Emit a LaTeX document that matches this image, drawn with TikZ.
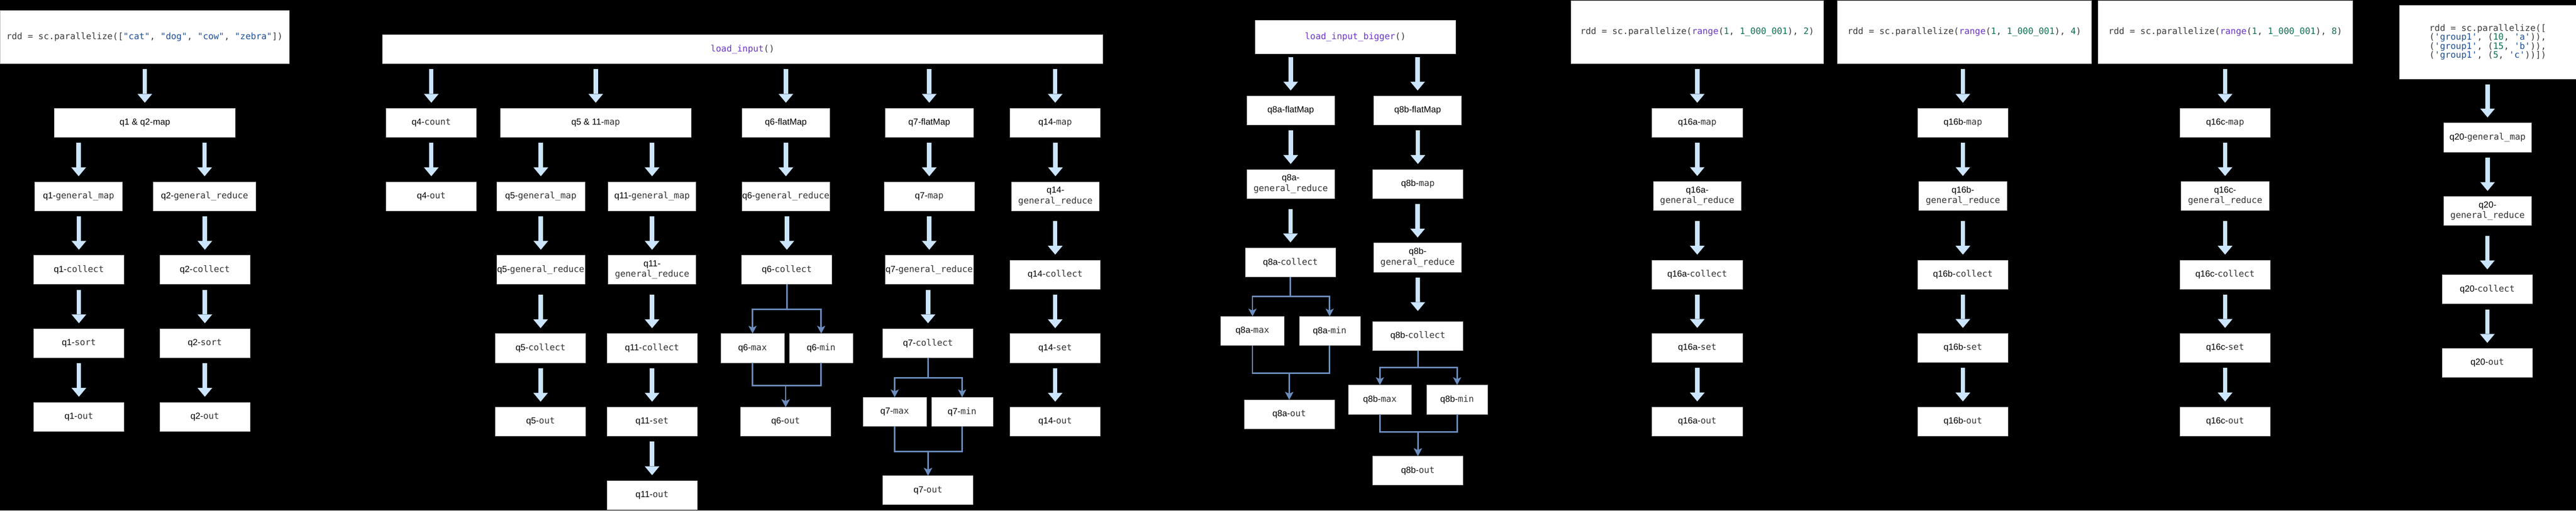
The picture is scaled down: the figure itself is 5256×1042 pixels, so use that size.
\documentclass[tikz,border=0pt]{standalone}
\usepackage{fontspec}
\setmainfont{Liberation Sans}
\setsansfont{Liberation Sans}
\setmonofont{DejaVu Sans Mono}
\usetikzlibrary{arrows.meta}

\definecolor{arrowfill}{HTML}{CCE5FF}
\definecolor{forkblue}{HTML}{6C8EBF}
\definecolor{monogray}{HTML}{333333}
\definecolor{codetxt}{HTML}{3B3B3B}
\definecolor{codestr}{HTML}{1F4F95}
\definecolor{codenum}{HTML}{0E7050}
\definecolor{codefun}{HTML}{6B36C8}

\newcommand{\qop}[2]{#1{\ttfamily\color{monogray}#2}}
\newcommand{\pstr}[1]{{\color{codestr}#1}}
\newcommand{\pnum}[1]{{\color{codenum}#1}}
\newcommand{\pfun}[1]{{\color{codefun}#1}}

\begin{document}
\begin{tikzpicture}[x=1pt, y=-1pt,
    op/.style={draw=gray!50, line width=0.75pt, fill=white, inner sep=0pt, align=center,
        minimum height=59pt, minimum width=184pt, font=\fontsize{18}{21.6}\selectfont},
    src/.style={op, text=codetxt, font=\ttfamily\fontsize{18}{21.6}\selectfont},
    bigarrow/.style={line width=9pt, draw=arrowfill, shorten <=11pt, shorten >=11pt,
        -{Triangle[length=18pt, width=30pt, line width=0pt]}},
    forkline/.style={draw=forkblue, line width=3pt,
        -{Stealth[length=16pt, width=17pt, inset=4pt, line width=0pt]}}]
    \fill [black] (0, 0) rectangle (5256, 1042);
    \useasboundingbox (0, 0) rectangle (5256, 1042);

    % q1 / q2
    \node [src, minimum width=590pt, minimum height=109pt] (in1) at (295, 75.5)
        {rdd = sc.parallelize([\pstr{"cat"}, \pstr{"dog"}, \pstr{"cow"}, \pstr{"zebra"}])};
    \node [op, minimum width=369pt] (q12map) at (295.5, 250.5) {q1 \& q2-map};
    \node [op, minimum width=179pt] (q1gm) at (160.5, 400.5) {\qop{q1-}{general\_map}};
    \node [op, minimum width=209pt] (q2gr) at (417.5, 400.5) {\qop{q2-}{general\_reduce}};
    \node [op] (q1col) at (161, 550.5) {\qop{q1-}{collect}};
    \node [op] (q2col) at (418, 550.5) {\qop{q2-}{collect}};
    \node [op] (q1sort) at (161, 700.5) {\qop{q1-}{sort}};
    \node [op] (q2sort) at (418, 700.5) {\qop{q2-}{sort}};
    \node [op] (q1out) at (161, 850.5) {\qop{q1-}{out}};
    \node [op] (q2out) at (418, 850.5) {\qop{q2-}{out}};

    % q4 .. q14
    \node [src, minimum width=1470pt] (load) at (1515, 100.5) {\pfun{load\_input}()};
    \node [op] (q4cnt) at (880, 250.5) {\qop{q4-}{count}};
    \node [op] (q4out) at (880, 400.5) {\qop{q4-}{out}};
    \node [op, minimum width=389pt] (q511map) at (1215.5, 250.5) {\qop{q5 \& 11-}{map}};
    \node [op, minimum width=179pt] (q5gm) at (1103.5, 400.5) {\qop{q5-}{general\_map}};
    \node [op, minimum width=179pt] (q11gm) at (1330.5, 400.5) {\qop{q11-}{general\_map}};
    \node [op, minimum width=179pt] (q5gr) at (1103.5, 550.5) {\qop{q5-}{general\_reduce}};
    \node [op, minimum width=179pt] (q11gr) at (1330.5, 550.5) {\qop{q11-\\}{general\_reduce}};
    \node [op] (q5col) at (1103, 710.5) {\qop{q5-}{collect}};
    \node [op] (q11col) at (1330.5, 710.5) {\qop{q11-}{collect}};
    \node [op] (q5out) at (1103, 860.5) {\qop{q5-}{out}};
    \node [op] (q11set) at (1330.5, 860.5) {\qop{q11-}{set}};
    \node [op] (q11out) at (1330.5, 1010.5) {\qop{q11-}{out}};

    \node [op, minimum width=179pt] (q6fm) at (1603.5, 250.5) {q6-flatMap};
    \node [op, minimum width=179pt] (q6gr) at (1603.5, 400.5) {\qop{q6-}{general\_reduce}};
    \node [op] (q6col) at (1605.5, 550.5) {\qop{q6-}{collect}};
    \node [op, minimum width=129pt] (q6max) at (1535.5, 710.5) {\qop{q6-}{max}};
    \node [op, minimum width=129pt] (q6min) at (1675.5, 710.5) {\qop{q6-}{min}};
    \node [op] (q6out) at (1603, 860.5) {\qop{q6-}{out}};

    \node [op, minimum width=180pt] (q7fm) at (1896, 250.5) {q7-flatMap};
    \node [op] (q7map) at (1896, 400.5) {\qop{q7-}{map}};
    \node [op, minimum width=180pt] (q7gr) at (1896, 550.5) {\qop{q7-}{general\_reduce}};
    \node [op] (q7col) at (1893.5, 700.5) {\qop{q7-}{collect}};
    \node [op, minimum width=129pt] (q7max) at (1825.5, 840.5) {\qop{q7-}{max}};
    \node [op, minimum width=125pt] (q7min) at (1963, 840.5) {\qop{q7-}{min}};
    \node [op] (q7out) at (1893.5, 1000.5) {\qop{q7-}{out}};

    \node [op] (q14map) at (2153, 250.5) {\qop{q14-}{map}};
    \node [op, minimum width=179pt] (q14gr) at (2153.5, 400.5) {\qop{q14-\\}{general\_reduce}};
    \node [op] (q14col) at (2153, 560.5) {\qop{q14-}{collect}};
    \node [op] (q14set) at (2153, 710.5) {\qop{q14-}{set}};
    \node [op] (q14out) at (2153, 860.5) {\qop{q14-}{out}};

    % q8
    \node [src, minimum width=409pt, minimum height=69pt] (big) at (2765.5, 75.5) {\pfun{load\_input\_bigger}()};
    \node [op, minimum width=179pt] (q8afm) at (2633.5, 225.5) {q8a-flatMap};
    \node [op, minimum width=179pt] (q8bfm) at (2892.5, 225.5) {q8b-flatMap};
    \node [op, minimum width=179pt] (q8agr) at (2633.5, 375.5) {\qop{q8a-\\}{general\_reduce}};
    \node [op] (q8bmap) at (2893, 375.5) {\qop{q8b-}{map}};
    \node [op] (q8acol) at (2633, 535.5) {\qop{q8a-}{collect}};
    \node [op, minimum width=179pt] (q8bgr) at (2892.5, 525.5) {\qop{q8b-\\}{general\_reduce}};
    \node [op, minimum width=129pt] (q8amax) at (2555.5, 675.5) {\qop{q8a-}{max}};
    \node [op, minimum width=124pt] (q8amin) at (2713, 675.5) {\qop{q8a-}{min}};
    \node [op] (q8aout) at (2630.5, 845.5) {\qop{q8a-}{out}};
    \node [op] (q8bcol) at (2893, 685.5) {\qop{q8b-}{collect}};
    \node [op, minimum width=129pt] (q8bmax) at (2815.5, 815.5) {\qop{q8b-}{max}};
    \node [op, minimum width=124pt] (q8bmin) at (2973, 815.5) {\qop{q8b-}{min}};
    \node [op] (q8bout) at (2893, 960.5) {\qop{q8b-}{out}};

    % q16a / q16b / q16c
    \node [src, minimum width=516pt, minimum height=129pt] (in16a) at (3463, 65.5)
        {rdd = sc.parallelize(\pfun{range}(\pnum{1}, \pnum{1\_000\_001}), \pnum{2})};
    \node [src, minimum width=518pt, minimum height=129pt] (in16b) at (4008, 65.5)
        {rdd = sc.parallelize(\pfun{range}(\pnum{1}, \pnum{1\_000\_001}), \pnum{4})};
    \node [src, minimum width=519pt, minimum height=129pt] (in16c) at (4540.5, 65.5)
        {rdd = sc.parallelize(\pfun{range}(\pnum{1}, \pnum{1\_000\_001}), \pnum{8})};
    \foreach \q/\x in {a/3463, b/4005, c/4540} {
        \node [op] (q16\q map) at (\x, 250.5) {\qop{q16\q-}{map}};
        \node [op, minimum width=179pt] (q16\q gr) at (\x, 400) {\qop{q16\q-\\}{general\_reduce}};
        \node [op] (q16\q col) at (\x, 560.5) {\qop{q16\q-}{collect}};
        \node [op] (q16\q set) at (\x, 710) {\qop{q16\q-}{set}};
        \node [op] (q16\q out) at (\x, 860) {\qop{q16\q-}{out}};
    }

    % q20
    \node [src, minimum width=360pt, minimum height=150pt, font=\ttfamily\fontsize{18}{18}\selectfont, align=left] (in20) at (5076, 86)
        {rdd = sc.parallelize([\\
         (\pstr{'group1'}, (\pnum{10}, \pstr{'a'})),\\
         (\pstr{'group1'}, (\pnum{15}, \pstr{'b'})),\\
         (\pstr{'group1'}, (\pnum{5}, \pstr{'c'}))])};
    \node [op, minimum width=179pt] (q20gm) at (5075.5, 280.5) {\qop{q20-}{general\_map}};
    \node [op, minimum width=179pt] (q20gr) at (5075.5, 430.5) {\qop{q20-\\}{general\_reduce}};
    \node [op] (q20col) at (5075, 590.5) {\qop{q20-}{collect}};
    \node [op] (q20out) at (5075, 740.5) {\qop{q20-}{out}};

    % block arrows
    \foreach \a/\b in {in1/q12map, q12map/q1gm, q12map/q2gr, q1gm/q1col, q2gr/q2col,
            q1col/q1sort, q2col/q2sort, q1sort/q1out, q2sort/q2out,
            load/q4cnt, load/q511map, load/q6fm, load/q7fm, load/q14map, q4cnt/q4out,
            q511map/q5gm, q511map/q11gm, q5gm/q5gr, q11gm/q11gr, q5col/q5out,
            q11col/q11set, q11set/q11out, q6fm/q6gr, q6gr/q6col, q7fm/q7map, q7map/q7gr,
            q7gr/q7col, q14map/q14gr, q14col/q14set, q14set/q14out,
            q8afm/q8agr, q8bfm/q8bmap, q8bmap/q8bgr,
            in16a/q16amap, in16b/q16bmap, in16c/q16cmap,
            q16amap/q16agr, q16bmap/q16bgr, q16cmap/q16cgr,
            q16acol/q16aset, q16bcol/q16bset, q16ccol/q16cset,
            q16aset/q16aout, q16bset/q16bout, q16cset/q16cout,
            in20/q20gm, q20gm/q20gr, q20col/q20out}
        \draw [bigarrow] (\a.south -| \b) -- (\b.north);
    \foreach \a/\b in {q5gr/q5col, q11gr/q11col, q14gr/q14col, q8agr/q8acol,
            q16agr/q16acol, q16bgr/q16bcol, q16cgr/q16ccol, q20gr/q20col}
        \draw [bigarrow, shorten <=21pt] (\a.south -| \b) -- (\b.north);
    \draw [bigarrow, shorten <=6pt] (big.south -| q8afm) -- (q8afm.north);
    \draw [bigarrow, shorten <=6pt] (big.south -| q8bfm) -- (q8bfm.north);
    \draw [bigarrow, shorten >=21pt] (q8bgr) -- (q8bcol.north);

    % forks
    \draw [forkline] (q6col.south) -- ++(0, 51) -| (q6max.north);
    \draw [forkline] (q6col.south) -- ++(0, 51) -| (q6min.north);
    \draw [forkline] (q6max.south) -- ++(0, 46) -| (q6out.north);
    \draw [forkline] (q6min.south) -- ++(0, 46) -| (q6out.north);
    \draw [forkline] (q7col.south) -- ++(0, 41) -| (q7max.north);
    \draw [forkline] (q7col.south) -- ++(0, 41) -| (q7min.north);
    \draw [forkline] (q7max.south) -- ++(0, 51) -| (q7out.north);
    \draw [forkline] (q7min.south) -- ++(0, 51) -| (q7out.north);
    \draw [forkline] (q8acol.south) -- ++(0, 40) -| (q8amax.north);
    \draw [forkline] (q8acol.south) -- ++(0, 40) -| (q8amin.north);
    \draw [forkline] (q8amax.south) -- ++(0, 56) -| (q8aout.north);
    \draw [forkline] (q8amin.south) -- ++(0, 56) -| (q8aout.north);
    \draw [forkline] (q8bcol.south) -- ++(0, 35) -| (q8bmax.north);
    \draw [forkline] (q8bcol.south) -- ++(0, 35) -| (q8bmin.north);
    \draw [forkline] (q8bmax.south) -- ++(0, 36) -| (q8bout.north);
    \draw [forkline] (q8bmin.south) -- ++(0, 36) -| (q8bout.north);

\end{tikzpicture}
\end{document}
